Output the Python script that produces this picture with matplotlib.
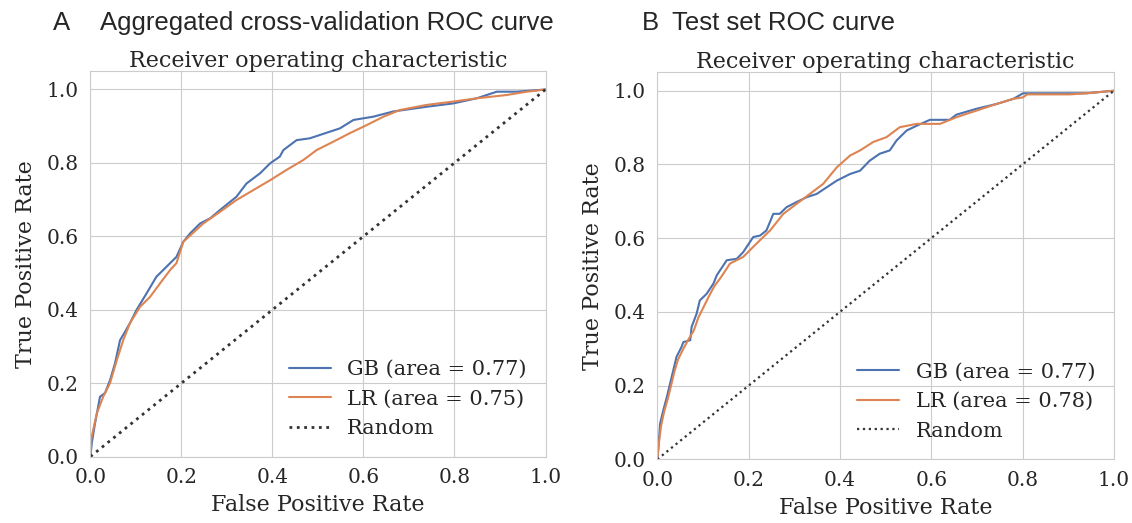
import matplotlib
matplotlib.use("Agg")
import matplotlib.pyplot as plt
import seaborn as sns

# panel A: aggregated cross-validation ROC
cv_gb_fpr = [0.0, 0.003, 0.010, 0.021, 0.032, 0.043, 0.054, 0.065, 0.076, 0.087, 0.1015, 0.1235,
             0.145, 0.167, 0.189, 0.204, 0.219, 0.241, 0.263, 0.285, 0.321, 0.343, 0.373, 0.395,
             0.416, 0.424, 0.453, 0.482, 0.504, 0.548, 0.578, 0.622, 0.665, 0.739, 0.797, 0.849,
             0.893, 0.937, 1.0]
cv_gb_tpr = [0.0, 0.037, 0.09, 0.163, 0.173, 0.208, 0.254, 0.317, 0.34, 0.364, 0.40, 0.445,
             0.49, 0.517, 0.544, 0.585, 0.608, 0.635, 0.649, 0.672, 0.708, 0.744, 0.772, 0.799,
             0.817, 0.835, 0.862, 0.867, 0.876, 0.894, 0.917, 0.926, 0.94, 0.953, 0.962, 0.976,
             0.994, 0.994, 1.0]
cv_lr_fpr = [0.0, 0.002, 0.014, 0.028, 0.043, 0.058, 0.072, 0.087, 0.109, 0.131, 0.153, 0.175,
             0.189, 0.204, 0.248, 0.285, 0.321, 0.358, 0.395, 0.431, 0.468, 0.497, 0.534, 0.57,
             0.607, 0.644, 0.68, 0.739, 0.797, 0.849, 0.915, 0.959, 1.0]
cv_lr_tpr = [0.0, 0.05, 0.118, 0.163, 0.20, 0.263, 0.317, 0.364, 0.408, 0.435, 0.472, 0.508,
             0.527, 0.585, 0.635, 0.667, 0.699, 0.726, 0.753, 0.781, 0.808, 0.835, 0.858, 0.881,
             0.903, 0.926, 0.944, 0.958, 0.967, 0.976, 0.985, 0.994, 1.0]

# panel B: test set ROC
ts_gb_fpr = [0.0, 0.002, 0.006, 0.013, 0.021, 0.028, 0.035, 0.042, 0.053, 0.057, 0.072, 0.075,
             0.086, 0.093, 0.108, 0.123, 0.13, 0.152, 0.174, 0.188, 0.21, 0.225, 0.239, 0.254,
             0.268, 0.283, 0.305, 0.327, 0.349, 0.371, 0.393, 0.422, 0.444, 0.465, 0.487, 0.509,
             0.524, 0.546, 0.568, 0.597, 0.64, 0.655, 0.699, 0.743, 0.78, 0.801, 0.903, 0.94, 1.0]
ts_gb_tpr = [0.0, 0.025, 0.097, 0.133, 0.17, 0.206, 0.242, 0.278, 0.305, 0.318, 0.323, 0.359,
             0.395, 0.431, 0.449, 0.477, 0.499, 0.54, 0.544, 0.562, 0.603, 0.607, 0.621, 0.666,
             0.666, 0.684, 0.698, 0.711, 0.72, 0.738, 0.756, 0.774, 0.783, 0.81, 0.829, 0.838,
             0.865, 0.892, 0.905, 0.921, 0.921, 0.935, 0.951, 0.964, 0.978, 0.993, 0.993, 0.993, 1.0]
ts_lr_fpr = [0.0, 0.002, 0.008, 0.015, 0.023, 0.03, 0.037, 0.045, 0.057, 0.068, 0.08, 0.09,
             0.1, 0.112, 0.125, 0.14, 0.159, 0.188, 0.217, 0.247, 0.276, 0.305, 0.334, 0.363,
             0.393, 0.422, 0.444, 0.473, 0.502, 0.531, 0.568, 0.619, 0.655, 0.699, 0.743, 0.78,
             0.801, 0.81, 0.903, 0.94, 1.0]
ts_lr_tpr = [0.0, 0.03, 0.09, 0.13, 0.165, 0.2, 0.236, 0.27, 0.30, 0.325, 0.35, 0.385,
             0.41, 0.44, 0.47, 0.495, 0.531, 0.549, 0.585, 0.621, 0.666, 0.693, 0.72, 0.747,
             0.792, 0.824, 0.838, 0.861, 0.874, 0.901, 0.91, 0.91, 0.928, 0.946, 0.964, 0.978,
             0.982, 0.99, 0.99, 0.993, 1.0]

diag = [0.0, 1.0]
cv_labels = ["GB (area = 0.77)", "LR (area = 0.75)", "Random"]
ts_labels = ["GB (area = 0.77)", "LR (area = 0.78)", "Random"]

sns.set_style("whitegrid")
plt.rcParams["font.family"] = ["DejaVu Serif"]
blue, orange = sns.color_palette("deep")[0], sns.color_palette("deep")[1]

fig = plt.figure(figsize=(11.32, 5.23), dpi=100)
ax1 = fig.add_axes([0.0799, 0.127, 0.402, 0.737])
ax2 = fig.add_axes([0.5807, 0.1218, 0.4033, 0.740])


def roc_panel(ax, gb, lr, labels, dot_lw):
    ax.plot(gb[0], gb[1], color=blue, lw=1.5, label=labels[0])
    ax.plot(lr[0], lr[1], color=orange, lw=1.5, label=labels[1])
    ax.plot(diag, diag, color="#333333", lw=dot_lw, ls=":", label=labels[2])
    ax.set_xlim(0.0, 1.0)
    ax.set_ylim(0.0, 1.05)
    ax.set_xticks([0, 0.2, 0.4, 0.6, 0.8, 1.0])
    ax.set_yticks([0, 0.2, 0.4, 0.6, 0.8, 1.0])
    ax.tick_params(labelsize=14.5, colors="#262626", pad=5)
    ax.set_xlabel("False Positive Rate", fontsize=16, color="#262626", labelpad=5)
    ax.set_ylabel("True Positive Rate", fontsize=16, color="#262626", labelpad=7)
    ax.set_title("Receiver operating characteristic", fontsize=16, color="#262626", pad=3)
    ax.legend(loc="lower right", fontsize=15, frameon=False)


roc_panel(ax1, (cv_gb_fpr, cv_gb_tpr), (cv_lr_fpr, cv_lr_tpr), cv_labels, 2.0)
roc_panel(ax2, (ts_gb_fpr, ts_gb_tpr), (ts_lr_fpr, ts_lr_tpr), ts_labels, 1.6)

sans = ["Liberation Sans", "DejaVu Sans"]
fig.text(53 / 1132, 1 - 30 / 523, "A", family=sans, fontsize=18.5, va="baseline")
fig.text(100 / 1132, 1 - 30 / 523, "Aggregated cross-validation ROC curve", family=sans,
         fontsize=18.5, va="baseline")
fig.text(642 / 1132, 1 - 30 / 523, "B", family=sans, fontsize=18.5, va="baseline")
fig.text(672 / 1132, 1 - 30 / 523, "Test set ROC curve", family=sans, fontsize=18.5,
         va="baseline")

fig.savefig("out.png", dpi=100)
